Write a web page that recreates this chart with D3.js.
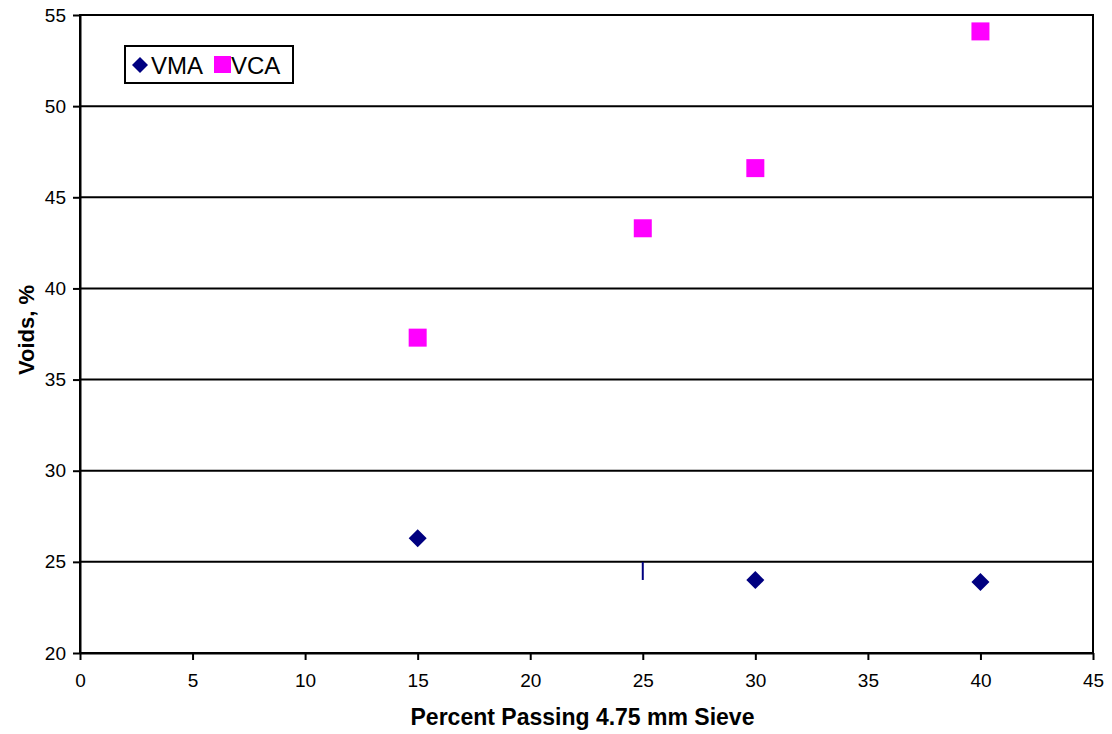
<!DOCTYPE html>
<html>
<head>
<meta charset="utf-8">
<script src="https://cdn.jsdelivr.net/npm/d3@7"></script>
<style>
    body { margin: 0; background: #fff; }
    svg text { font-family: "Liberation Sans", Arial, sans-serif; fill: #000; }
</style>
</head>
<body>
<div id="chart"></div>
<script>
// 数据
var vmaX = [15, 25, 30, 40];
var vmaY = [26.3, 24.5, 24.0, 23.9];
var vcaX = [15, 25, 30, 40];
var vcaY = [37.3, 43.3, 46.6, 54.1];
var xTicks = [0, 5, 10, 15, 20, 25, 30, 35, 40, 45];
var yTicks = [20, 25, 30, 35, 40, 45, 50, 55];
var seriesNames = ['VMA', 'VCA'];

var width = 1112;
var height = 734;
var padding = { top: 15, right: 19, bottom: 81, left: 80 };
var innerW = width - padding.left - padding.right;
var innerH = height - padding.top - padding.bottom;

var svg = d3.select('#chart')
    .append('svg')
    .attr('width', width)
    .attr('height', height);

var xScale = d3.scaleLinear().domain([0, 45]).range([0, innerW]);
var yScale = d3.scaleLinear().domain([20, 55]).range([innerH, 0]);

var g = svg.append('g')
    .attr('transform', 'translate(' + padding.left + ',' + padding.top + ')');

// 网格线
g.append('g')
    .selectAll('line')
    .data(yTicks)
    .enter()
    .append('line')
    .attr('x1', 0)
    .attr('x2', innerW)
    .attr('y1', function (d) { return yScale(d); })
    .attr('y2', function (d) { return yScale(d); })
    .attr('stroke', '#000')
    .attr('stroke-width', 2);

// 边框
g.append('rect')
    .attr('x', 0)
    .attr('y', 0)
    .attr('width', innerW)
    .attr('height', innerH)
    .attr('fill', 'none')
    .attr('stroke', '#000')
    .attr('stroke-width', 2);

// 轴线
var xAxis = d3.axisBottom(xScale).tickValues(xTicks).tickSizeInner(7).tickSizeOuter(0).tickPadding(14);
var yAxis = d3.axisLeft(yScale).tickValues(yTicks).tickSizeInner(7).tickSizeOuter(0).tickPadding(7);

var gx = g.append('g')
    .attr('transform', 'translate(0,' + innerH + ')')
    .call(xAxis);
var gy = g.append('g').call(yAxis);

[gx, gy].forEach(function (a) {
    a.select('.domain').attr('stroke', '#000').attr('stroke-width', 2);
    a.selectAll('.tick line').attr('stroke', '#000').attr('stroke-width', 2);
    a.selectAll('.tick text')
        .attr('font-size', '19px')
        .attr('font-family', '"Liberation Sans", Arial, sans-serif');
});

// 轴标题
svg.append('text')
    .attr('x', padding.left + innerW / 2 - 4)
    .attr('y', 725)
    .attr('text-anchor', 'middle')
    .attr('font-size', '23px')
    .attr('font-weight', 'bold')
    .text('Percent Passing 4.75 mm Sieve');

svg.append('text')
    .attr('transform', 'translate(34,' + (padding.top + innerH / 2 - 4) + ') rotate(-90)')
    .attr('text-anchor', 'middle')
    .attr('font-size', '22px')
    .attr('font-weight', 'bold')
    .text('Voids, %');

// 数据点
var vmaData = vmaX.map(function (x, i) { return [x, vmaY[i]]; });
var vcaData = vcaX.map(function (x, i) { return [x, vcaY[i]]; });

var diamond = 'M0,-9L9,0L0,9L-9,0Z';

g.append('g')
    .selectAll('path')
    .data(vmaData)
    .enter()
    .append('path')
    .attr('d', function (d) {
        // x=25 的点在原图里只画出一条竖线
        return d[0] === 25 ? 'M-1,-9L1,-9L1,9L-1,9Z' : diamond;
    })
    .attr('transform', function (d) {
        return 'translate(' + xScale(d[0]) + ',' + yScale(d[1]) + ')';
    })
    .attr('fill', '#000080');

g.append('g')
    .selectAll('rect')
    .data(vcaData)
    .enter()
    .append('rect')
    .attr('x', function (d) { return xScale(d[0]) - 9; })
    .attr('y', function (d) { return yScale(d[1]) - 9; })
    .attr('width', 18)
    .attr('height', 18)
    .attr('fill', '#ff00ff');

// 图例
var legend = svg.append('g').attr('transform', 'translate(125,46)');
legend.append('rect')
    .attr('width', 168)
    .attr('height', 37)
    .attr('fill', '#fff')
    .attr('stroke', '#000')
    .attr('stroke-width', 2);
legend.append('path')
    .attr('d', 'M0,-8L8,0L0,8L-8,0Z')
    .attr('transform', 'translate(15,19)')
    .attr('fill', '#000080');
legend.append('text')
    .attr('x', 26)
    .attr('y', 28)
    .attr('font-size', '24px')
    .text(seriesNames[0]);
legend.append('rect')
    .attr('x', 89)
    .attr('y', 10)
    .attr('width', 17)
    .attr('height', 17)
    .attr('fill', '#ff00ff');
legend.append('text')
    .attr('x', 106)
    .attr('y', 28)
    .attr('font-size', '24px')
    .text(seriesNames[1]);
</script>
</body>
</html>
